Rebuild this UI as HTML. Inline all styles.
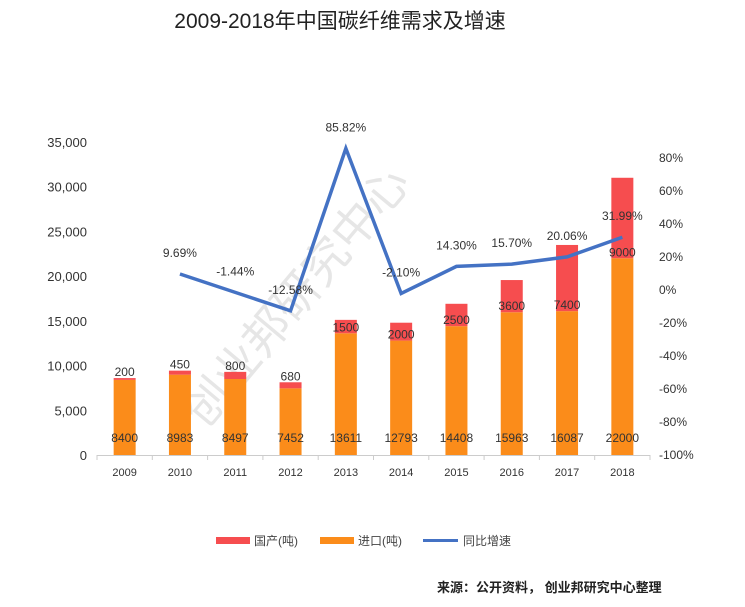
<!DOCTYPE html>
<html><head><meta charset="utf-8">
<style>
body{margin:0;background:#fff;width:745px;height:602px;overflow:hidden;font-family:"Liberation Sans","Noto Sans CJK SC",sans-serif;}
svg text{font-family:"Liberation Sans","Noto Sans CJK SC",sans-serif;}
</style></head>
<body>
<svg id="chart" width="745" height="602">
<text x="340" y="28" font-size="21" text-anchor="middle" fill="#222">2009-2018年中国碳纤维需求及增速</text>
<text x="0" y="0" font-size="46" fill="#e6e6e6" transform="translate(205,430) rotate(-50)">创业邦研究中心</text>
<g id="plot"></g>
<g>
<rect x="216" y="537" width="34" height="7" fill="#f64d4f"/>
<text x="254" y="545" font-size="12" fill="#444">国产(吨)</text>
<rect x="320" y="537" width="34" height="7" fill="#fb8c1a"/>
<text x="358" y="545" font-size="12" fill="#444">进口(吨)</text>
<line x1="423" y1="540.5" x2="458" y2="540.5" stroke="#4472c4" stroke-width="3"/>
<text x="463" y="545" font-size="12" fill="#444">同比增速</text>
</g>
<text x="437" y="592" font-size="13" font-weight="bold" fill="#222">来源：公开资料， 创业邦研究中心整理</text>
</svg>
<script>
const years=["2009","2010","2011","2012","2013","2014","2015","2016","2017","2018"];
const imports=[8400,8983,8497,7452,13611,12793,14408,15963,16087,22000];
const domestic=[200,450,800,680,1500,2000,2500,3600,7400,9000];
const growth=[null,9.69,-1.44,-12.58,85.82,-2.10,14.30,15.70,20.06,31.99];
const leftTicks=[0,5000,10000,15000,20000,25000,30000,35000];
const rightTicks=[-100,-80,-60,-40,-20,0,20,40,60,80];
const NS="http://www.w3.org/2000/svg";
const g=document.getElementById('plot');
const x0=97,x1=650,base=455;
const step=(x1-x0)/years.length;
function xc(i){return x0+step*(i+0.5);}
function yl(v){return base-v*(313/35000);}
function yr(p){return 455-(p+100)*(297/180);}
function mk(t,a){const e=document.createElementNS(NS,t);for(const k in a)e.setAttribute(k,a[k]);g.appendChild(e);return e;}
function fmt(v){return v.toLocaleString('en-US');}
leftTicks.forEach(v=>{const t=mk('text',{x:87,y:yl(v)+5,'font-size':13,'text-anchor':'end',fill:'#333'});t.textContent=fmt(v);

});
rightTicks.forEach(v=>{const t=mk('text',{x:659,y:yr(v)+4,'font-size':12,fill:'#333'});t.textContent=v+'%';

});
const ax=mk('line',{x1:x0,y1:base+0.5,x2:x1,y2:base+0.5,stroke:'#ccc'});


for(let i=0;i<=years.length;i++){const tk=mk('line',{x1:x0+step*i,y1:base,x2:x0+step*i,y2:base+5,stroke:'#ccc'});

}
years.forEach((y,i)=>{
const cx=xc(i),w=22;
const yi=yl(imports[i]),yt=yl(imports[i]+domestic[i]);
const b1=mk('rect',{x:cx-w/2,y:yi,width:w,height:base-yi,fill:'#fb8c1a'});


const b2=mk('rect',{x:cx-w/2,y:yt,width:w,height:yi-yt,fill:'#f64d4f'});


const l1=mk('text',{x:cx,y:442,'font-size':12,'text-anchor':'middle',fill:'#333'});l1.textContent=imports[i];


const ly=(yi-yt<12)?yt-2:yi-2;
const l2=mk('text',{x:cx,y:ly,'font-size':12,'text-anchor':'middle',fill:'#333'});l2.textContent=domestic[i];


const xl=mk('text',{x:cx,y:476,'font-size':11,'text-anchor':'middle',fill:'#333'});xl.textContent=y;


});
let d='';growth.forEach((p,i)=>{if(p===null)return;d+=(d?'L':'M')+xc(i)+','+yr(p);});
const ln=mk('path',{d:d,fill:'none',stroke:'#4472c4','stroke-width':3.5,'stroke-linejoin':'miter'});


growth.forEach((p,i)=>{if(p===null)return;
const t=mk('text',{x:xc(i),y:yr(p)-17,'font-size':12,'text-anchor':'middle',fill:'#333'});t.textContent=p.toFixed(2)+'%';

});
</script>
</body></html>
